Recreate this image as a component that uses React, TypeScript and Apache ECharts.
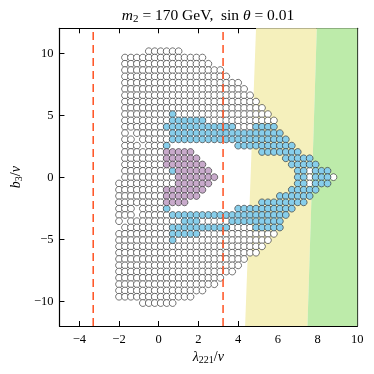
import React, { useEffect, useRef } from "react";
import * as echarts from "echarts";

// column positions (lambda221/v) of the scan grid
const xGrid = [-2.0, -1.7, -1.4, -1.1, -0.8, -0.5, -0.2, 0.1, 0.4, 0.7, 1.0, 1.3, 1.6, 1.9, 2.2, 2.5, 2.8, 3.1, 3.4, 3.7, 4.0, 4.3, 4.6, 4.9, 5.2, 5.5, 5.8, 6.1, 6.4, 6.7, 7.0, 7.3, 7.6, 7.9, 8.2, 8.5, 8.8];
// row positions (b3/v) of the scan grid, top to bottom
const yRows = [10.15, 9.64, 9.14, 8.63, 8.12, 7.61, 7.11, 6.6, 6.09, 5.58, 5.08, 4.57, 4.06, 3.55, 3.05, 2.54, 2.03, 1.52, 1.02, 0.51, 0, -0.51, -1.02, -1.52, -2.03, -2.54, -3.05, -3.55, -4.06, -4.57, -5.08, -5.58, -6.09, -6.6, -7.11, -7.61, -8.12, -8.63, -9.14, -9.64, -10.15];
// per row: runs of grid columns. o = allowed (white), b = blue, p = purple
const rowRuns = [
  "o5-10",
  "o1-14",
  "o1-15",
  "o1-17",
  "o1-18",
  "o1-20",
  "o1-21",
  "o1-22",
  "o1-23",
  "o1-24",
  "o1-8 b9 o10-25",
  "o1-8 b9-14 o15-26",
  "o1-7 b8-19 o20-22 b23-26",
  "o1 o3-8 b9-27",
  "o1-2 o4-8 b9-28",
  "o1-3 o5-7 b8 b20-29",
  "o1-7 p8-12 b24-30",
  "o1-7 p8-13 b28-32",
  "o1-7 p8-14 b29-33",
  "o1-8 b9 p10-15 b30-31 o32 b33-35",
  "o1-9 p10-16 b30-31 o32 b33-35 o36",
  "o0-9 p10-15 b30-31 o32 b33-35",
  "o0-7 p8-14 b29-33",
  "o0-7 p8-13 b27-32",
  "o0-7 p8-11 b24-31",
  "o0-2 o4-7 b8 b20-29",
  "o0-2 o4-8 b9-28",
  "o0 o2-10 b11-13 o14-18 b19-27",
  "o1-8 b9-18 o19-22 b23-27",
  "o0-8 b9-13 o14-26",
  "o0-8 b9 o10-25",
  "o0-24",
  "o0-23",
  "o0-21",
  "o0-20",
  "o0-19",
  "o0-17",
  "o0-16",
  "o0-14",
  "o0-12",
  "o4-9",
];

const xTicks = [-4, -2, 0, 2, 4, 6, 8, 10];
const yTicks = [-10, -5, 0, 5, 10];
const dashedX = [-3.3, 3.24];
const yellowBand = [[4.9, 12], [7.96, 12], [7.49, -12], [4.35, -12]];
const greenBand = [[7.96, 12], [10, 12], [10, -12], [7.49, -12]];

function decode() {
  const out: Record<string, number[][]> = { o: [], b: [], p: [] };
  rowRuns.forEach((row, i) => {
    row.split(" ").forEach((tok) => {
      const t = tok[0];
      const rng = tok.slice(1).split("-").map(Number);
      const a = rng[0];
      const b = rng.length > 1 ? rng[1] : rng[0];
      for (let j = a; j <= b; j++) out[t].push([xGrid[j], yRows[i]]);
    });
  });
  return out;
}

const FONT = "'Liberation Serif', 'DejaVu Serif', serif";

export default function App() {
  const ref = useRef<HTMLDivElement>(null);
  useEffect(() => {
    if (!ref.current) return;
    const chart = echarts.init(ref.current, undefined, { renderer: "svg" });
    const pts = decode();
    const fmt = (v: number) => String(v).replace("-", "\u2212");
    const axisCommon = {
      type: "value" as const,
      axisLine: { show: true, onZero: false, lineStyle: { color: "#000", width: 1.2 } },
      splitLine: { show: false },
    };
    const scatter = (data: number[][], color: string) => ({
      type: "scatter",
      data,
      symbol: "circle",
      symbolSize: 6.8,
      z: 3,
      itemStyle: { color, borderColor: "#3a3a3a", borderWidth: 0.7, opacity: 1 },
      emphasis: { disabled: true },
    });
    const band = (poly: number[][], fill: string) => ({
      type: "custom",
      z: 1,
      silent: true,
      data: [[0, 0]],
      renderItem: (_p: any, api: any) => ({
        type: "polygon",
        shape: { points: poly.map((q) => api.coord(q)) },
        style: { fill },
      }),
    });
    const richLabel = {
      i: { fontFamily: FONT, fontStyle: "italic", fontSize: 14, color: "#000", lineHeight: 16, verticalAlign: "middle" },
      n: { fontFamily: FONT, fontSize: 14, color: "#000", lineHeight: 16, verticalAlign: "middle" },
      s: { fontFamily: FONT, fontSize: 10, color: "#000", lineHeight: 8, verticalAlign: "bottom" },
    };
    chart.setOption({
      animation: false,
      grid: { left: 58.7, right: 16.7, top: 28.3, bottom: 48 },
      xAxis: [
        {
          ...axisCommon,
          min: -5,
          max: 10,
          position: "bottom",
          axisTick: { inside: true, length: 5, customValues: xTicks, lineStyle: { color: "#000" } },
          axisLabel: { customValues: xTicks, formatter: fmt, fontFamily: FONT, fontSize: 12.5, color: "#000", margin: 6 },
          name: "{i|\u03bb}{s|221}{n|/}{i|v}",
          nameLocation: "middle",
          nameGap: 21,
          nameTextStyle: { rich: richLabel },
        },
        {
          ...axisCommon,
          min: -5,
          max: 10,
          position: "top",
          axisTick: { inside: true, length: 5, customValues: xTicks, lineStyle: { color: "#000" } },
          axisLabel: { show: false },
        },
      ],
      yAxis: [
        {
          ...axisCommon,
          min: -12,
          max: 12,
          position: "left",
          axisTick: { inside: true, length: 5, customValues: yTicks, lineStyle: { color: "#000" } },
          axisLabel: { customValues: yTicks, formatter: fmt, fontFamily: FONT, fontSize: 12.5, color: "#000", margin: 6 },
          name: "{i|b}{s|3}{n|/}{i|v}",
          nameLocation: "middle",
          nameGap: 35,
          nameRotate: 90,
          nameTextStyle: { rich: richLabel },
        },
        {
          ...axisCommon,
          min: -12,
          max: 12,
          position: "right",
          axisTick: { inside: true, length: 5, customValues: yTicks, lineStyle: { color: "#000" } },
          axisLabel: { show: false },
        },
      ],
      graphic: [
        {
          type: "text",
          x: 208,
          y: 14,
          style: {
            text: "{i|m}{s|2}{n| = 170 GeV,  sin }{i|\u03b8}{n| = 0.01}",
            align: "center",
            verticalAlign: "middle",
            rich: {
              i: { fontFamily: FONT, fontStyle: "italic", fontSize: 15.5, fill: "#000", lineHeight: 18, verticalAlign: "middle" },
              n: { fontFamily: FONT, fontSize: 15.5, fill: "#000", lineHeight: 18, verticalAlign: "middle" },
              s: { fontFamily: FONT, fontSize: 11, fill: "#000", lineHeight: 9, verticalAlign: "bottom" },
            },
          },
        },
      ],
      series: [
        band(yellowBand, "#F5F0BC"),
        band(greenBand, "#BDEBAA"),
        scatter(pts.o, "#ffffff"),
        scatter(pts.b, "#87CEEB"),
        scatter(pts.p, "#C8AACB"),
        ...dashedX.map((x) => ({
          type: "line",
          z: 4,
          symbol: "none",
          silent: true,
          data: [[x, -12], [x, 12]],
          lineStyle: { color: "#FF5020", width: 1.5, type: [8, 5] },
        })),
      ],
    });
    return () => chart.dispose();
  }, []);
  return <div ref={ref} style={{ position: "fixed", left: 0, top: 0, width: 374, height: 374 }} />;
}
